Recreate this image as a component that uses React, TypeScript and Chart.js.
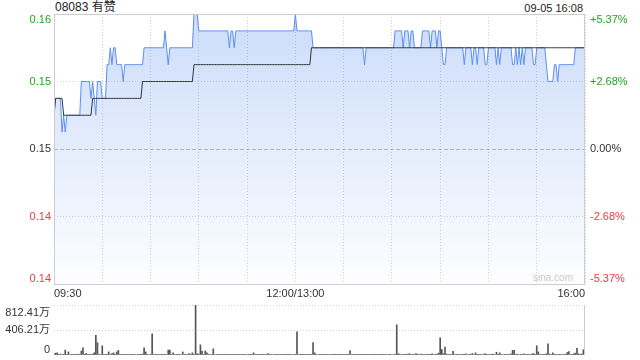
import React, { useEffect, useRef } from "react";
import { Chart, registerables } from "chart.js";

Chart.register(...registerables);

const FONT = '"Liberation Sans", Arial, "Noto Sans CJK SC", sans-serif';

const stockTitle = "08083 有赞";
const stampText = "09-05 16:08";
const watermark = "sina.com";

const prevClose = 0.149;
const priceTicks = [0.141, 0.145, 0.149, 0.153, 0.157];
const priceTickLabels = ["0.14", "0.14", "0.15", "0.15", "0.16"];
const pctTickLabels = ["-5.37%", "-2.68%", "0.00%", "+2.68%", "+5.37%"];

const timeTicks = [0, 30, 60, 90, 120, 150, 180, 210, 240, 270, 300, 330];
const timeTickLabels = ["09:30", "", "", "", "", "12:00/13:00", "", "", "", "", "", "16:00"];

const volTicks = [0, 406.205, 812.41];
const volTickLabels = ["0", "406.21万", "812.41万"];

// one value per trading minute (09:30 .. 16:00, lunch removed)
const prices = [
  0.151, 0.152, 0.152, 0.152, 0.152, 0.150, 0.151, 0.150, 0.151, 0.151,
  0.151, 0.151, 0.151, 0.151, 0.151, 0.151, 0.151, 0.153, 0.153, 0.153,
  0.153, 0.153, 0.153, 0.152, 0.153, 0.152, 0.151, 0.153, 0.153, 0.153,
  0.152, 0.152, 0.152, 0.154, 0.154, 0.155, 0.154, 0.155, 0.155, 0.154,
  0.154, 0.154, 0.154, 0.153, 0.154, 0.154, 0.154, 0.154, 0.154, 0.154,
  0.154, 0.154, 0.154, 0.154, 0.154, 0.154, 0.155, 0.155, 0.155, 0.155,
  0.155, 0.155, 0.155, 0.155, 0.155, 0.155, 0.155, 0.155, 0.155, 0.156,
  0.155, 0.154, 0.155, 0.155, 0.155, 0.155, 0.155, 0.155, 0.155, 0.155,
  0.155, 0.155, 0.155, 0.155, 0.155, 0.155, 0.155, 0.157, 0.157, 0.157,
  0.156, 0.156, 0.156, 0.156, 0.156, 0.156, 0.156, 0.156, 0.156, 0.156,
  0.156, 0.156, 0.156, 0.156, 0.156, 0.156, 0.156, 0.156, 0.156, 0.155,
  0.156, 0.156, 0.155, 0.156, 0.156, 0.156, 0.156, 0.156, 0.156, 0.156,
  0.156, 0.156, 0.156, 0.156, 0.156, 0.156, 0.156, 0.156, 0.156, 0.156,
  0.156, 0.156, 0.156, 0.156, 0.156, 0.156, 0.156, 0.156, 0.156, 0.156,
  0.156, 0.156, 0.156, 0.156, 0.156, 0.156, 0.156, 0.156, 0.156, 0.156,
  0.157, 0.156, 0.156, 0.156, 0.156, 0.156, 0.156, 0.156, 0.156, 0.156,
  0.156, 0.155, 0.155, 0.155, 0.155, 0.155, 0.155, 0.155, 0.155, 0.155,
  0.155, 0.155, 0.155, 0.155, 0.155, 0.155, 0.155, 0.155, 0.155, 0.155,
  0.155, 0.155, 0.155, 0.155, 0.155, 0.155, 0.155, 0.155, 0.155, 0.155,
  0.155, 0.155, 0.155, 0.154, 0.155, 0.155, 0.155, 0.155, 0.155, 0.155,
  0.155, 0.155, 0.155, 0.155, 0.155, 0.155, 0.155, 0.155, 0.155, 0.155,
  0.155, 0.155, 0.156, 0.156, 0.156, 0.156, 0.156, 0.155, 0.156, 0.156,
  0.156, 0.155, 0.156, 0.156, 0.155, 0.155, 0.155, 0.155, 0.155, 0.156,
  0.156, 0.156, 0.156, 0.156, 0.155, 0.156, 0.156, 0.156, 0.155, 0.156,
  0.156, 0.155, 0.154, 0.154, 0.155, 0.155, 0.155, 0.155, 0.155, 0.155,
  0.155, 0.155, 0.155, 0.155, 0.155, 0.154, 0.155, 0.155, 0.155, 0.155,
  0.154, 0.155, 0.155, 0.154, 0.155, 0.155, 0.155, 0.155, 0.154, 0.154,
  0.155, 0.155, 0.155, 0.155, 0.155, 0.154, 0.155, 0.154, 0.155, 0.155,
  0.155, 0.155, 0.155, 0.155, 0.155, 0.154, 0.154, 0.155, 0.154, 0.155,
  0.154, 0.155, 0.154, 0.155, 0.155, 0.155, 0.155, 0.155, 0.154, 0.154,
  0.155, 0.155, 0.155, 0.155, 0.155, 0.155, 0.154, 0.153, 0.153, 0.153,
  0.153, 0.154, 0.154, 0.153, 0.154, 0.154, 0.154, 0.154, 0.154, 0.154,
  0.154, 0.154, 0.154, 0.154, 0.155, 0.155, 0.155, 0.155, 0.155, 0.155,
  0.155,
];

const avgPrices = [
  0.151, 0.152, 0.152, 0.152, 0.152, 0.152, 0.151, 0.151, 0.151, 0.151,
  0.151, 0.151, 0.151, 0.151, 0.151, 0.151, 0.151, 0.151, 0.151, 0.151,
  0.151, 0.151, 0.151, 0.151, 0.152, 0.152, 0.152, 0.152, 0.152, 0.152,
  0.152, 0.152, 0.152, 0.152, 0.152, 0.152, 0.152, 0.152, 0.152, 0.152,
  0.152, 0.152, 0.152, 0.152, 0.152, 0.152, 0.152, 0.152, 0.152, 0.152,
  0.152, 0.152, 0.152, 0.152, 0.152, 0.153, 0.153, 0.153, 0.153, 0.153,
  0.153, 0.153, 0.153, 0.153, 0.153, 0.153, 0.153, 0.153, 0.153, 0.153,
  0.153, 0.153, 0.153, 0.153, 0.153, 0.153, 0.153, 0.153, 0.153, 0.153,
  0.153, 0.153, 0.153, 0.153, 0.153, 0.153, 0.153, 0.154, 0.154, 0.154,
  0.154, 0.154, 0.154, 0.154, 0.154, 0.154, 0.154, 0.154, 0.154, 0.154,
  0.154, 0.154, 0.154, 0.154, 0.154, 0.154, 0.154, 0.154, 0.154, 0.154,
  0.154, 0.154, 0.154, 0.154, 0.154, 0.154, 0.154, 0.154, 0.154, 0.154,
  0.154, 0.154, 0.154, 0.154, 0.154, 0.154, 0.154, 0.154, 0.154, 0.154,
  0.154, 0.154, 0.154, 0.154, 0.154, 0.154, 0.154, 0.154, 0.154, 0.154,
  0.154, 0.154, 0.154, 0.154, 0.154, 0.154, 0.154, 0.154, 0.154, 0.154,
  0.154, 0.154, 0.154, 0.154, 0.154, 0.154, 0.154, 0.154, 0.154, 0.154,
  0.155, 0.155, 0.155, 0.155, 0.155, 0.155, 0.155, 0.155, 0.155, 0.155,
  0.155, 0.155, 0.155, 0.155, 0.155, 0.155, 0.155, 0.155, 0.155, 0.155,
  0.155, 0.155, 0.155, 0.155, 0.155, 0.155, 0.155, 0.155, 0.155, 0.155,
  0.155, 0.155, 0.155, 0.155, 0.155, 0.155, 0.155, 0.155, 0.155, 0.155,
  0.155, 0.155, 0.155, 0.155, 0.155, 0.155, 0.155, 0.155, 0.155, 0.155,
  0.155, 0.155, 0.155, 0.155, 0.155, 0.155, 0.155, 0.155, 0.155, 0.155,
  0.155, 0.155, 0.155, 0.155, 0.155, 0.155, 0.155, 0.155, 0.155, 0.155,
  0.155, 0.155, 0.155, 0.155, 0.155, 0.155, 0.155, 0.155, 0.155, 0.155,
  0.155, 0.155, 0.155, 0.155, 0.155, 0.155, 0.155, 0.155, 0.155, 0.155,
  0.155, 0.155, 0.155, 0.155, 0.155, 0.155, 0.155, 0.155, 0.155, 0.155,
  0.155, 0.155, 0.155, 0.155, 0.155, 0.155, 0.155, 0.155, 0.155, 0.155,
  0.155, 0.155, 0.155, 0.155, 0.155, 0.155, 0.155, 0.155, 0.155, 0.155,
  0.155, 0.155, 0.155, 0.155, 0.155, 0.155, 0.155, 0.155, 0.155, 0.155,
  0.155, 0.155, 0.155, 0.155, 0.155, 0.155, 0.155, 0.155, 0.155, 0.155,
  0.155, 0.155, 0.155, 0.155, 0.155, 0.155, 0.155, 0.155, 0.155, 0.155,
  0.155, 0.155, 0.155, 0.155, 0.155, 0.155, 0.155, 0.155, 0.155, 0.155,
  0.155, 0.155, 0.155, 0.155, 0.155, 0.155, 0.155, 0.155, 0.155, 0.155,
  0.155,
];

// volume per minute, in 万 shares
const volumes = [
  20, 30, 35, 10, 15, 8, 12, 80, 10, 50,
  8, 12, 5, 10, 6, 15, 10, 65, 115, 10,
  25, 8, 12, 6, 15, 35, 320, 200, 12, 8,
  150, 10, 6, 12, 50, 8, 25, 35, 10, 50,
  75, 10, 6, 8, 5, 10, 6, 8, 5, 12,
  6, 8, 10, 5, 12, 15, 115, 50, 10, 8,
  12, 345, 8, 6, 10, 5, 8, 6, 10, 12,
  8, 80, 80, 10, 35, 8, 6, 12, 5, 8,
  50, 10, 6, 8, 25, 10, 35, 12, 812.41, 20,
  15, 165, 65, 10, 65, 35, 12, 8, 10, 100,
  8, 10, 6, 5, 8, 12, 6, 5, 8, 6,
  5, 8, 6, 10, 5, 6, 8, 5, 12, 6,
  8, 6, 5, 10, 35, 6, 8, 5, 6, 10,
  5, 8, 6, 25, 6, 5, 8, 10, 6, 5,
  8, 6, 10, 5, 8, 12, 6, 5, 8, 10,
  12, 375, 10, 8, 6, 12, 5, 8, 6, 10,
  12, 200, 35, 10, 8, 6, 5, 8, 6, 10,
  5, 8, 6, 10, 5, 6, 8, 12, 6, 5,
  8, 6, 10, 5, 70, 8, 6, 5, 10, 6,
  8, 5, 6, 10, 12, 5, 8, 6, 5, 10,
  6, 8, 5, 12, 6, 10, 5, 8, 6, 5,
  8, 10, 12, 490, 20, 15, 8, 10, 12, 6,
  15, 20, 8, 10, 6, 25, 12, 8, 15, 10,
  6, 8, 12, 10, 5, 20, 8, 6, 15, 30,
  280, 90, 20, 130, 15, 8, 12, 10, 60, 8,
  6, 10, 5, 8, 12, 6, 20, 8, 5, 10,
  25, 8, 35, 6, 10, 5, 8, 12, 20, 6,
  8, 10, 5, 15, 8, 45, 6, 35, 10, 8,
  5, 12, 8, 6, 20, 75, 75, 10, 15, 8,
  12, 6, 20, 8, 5, 10, 8, 15, 25, 12,
  150, 50, 10, 8, 12, 6, 20, 180, 15, 8,
  35, 6, 10, 8, 12, 5, 8, 10, 6, 40,
  55, 8, 12, 20, 30, 110, 20, 10, 15, 85,
  30,
];

const GREEN = "#22a622";
const RED = "#f03a3a";
const NEUTRAL = "#333333";
const GRID = "#d2d2d2";
const FRAME = "#cccccc";

function colorFor(v: number) {
  if (Math.abs(v - prevClose) < 1e-9) return NEUTRAL;
  return v > prevClose ? GREEN : RED;
}

const priceLabelsPlugin = {
  id: "priceLabels",
  afterDraw(chart: any) {
    const { ctx, chartArea: ca } = chart;
    const ys = chart.scales.y;
    ctx.save();
    // zero-change line
    const zy = Math.round(ys.getPixelForValue(prevClose)) + 0.5;
    ctx.strokeStyle = "#b4b4b4";
    ctx.lineWidth = 1;
    ctx.setLineDash([4, 2]);
    ctx.beginPath();
    ctx.moveTo(ca.left, zy);
    ctx.lineTo(ca.right, zy);
    ctx.stroke();
    ctx.setLineDash([]);
    // frame
    ctx.strokeStyle = FRAME;
    ctx.strokeRect(ca.left + 0.5, ca.top + 0.5, ca.right - ca.left - 1, ca.bottom - ca.top);
    // labels
    ctx.font = `11px ${FONT}`;
    priceTicks.forEach((v, i) => {
      const py = ys.getPixelForValue(v);
      ctx.textBaseline = i === 0 ? "bottom" : i === priceTicks.length - 1 ? "top" : "middle";
      ctx.fillStyle = colorFor(v);
      ctx.textAlign = "right";
      ctx.fillText(priceTickLabels[i], ca.left - 3, py);
      ctx.textAlign = "left";
      ctx.fillText(pctTickLabels[i], ca.right + 5, py);
    });
    // watermark
    ctx.font = `10px ${FONT}`;
    ctx.fillStyle = "#c8c8c8";
    ctx.textAlign = "right";
    ctx.textBaseline = "bottom";
    ctx.fillText(watermark, ca.right - 12, ca.bottom - 1);
    ctx.restore();
  },
};

const volLabelsPlugin = {
  id: "volLabels",
  afterDraw(chart: any) {
    const { ctx, chartArea: ca } = chart;
    const ys = chart.scales.y;
    ctx.save();
    ctx.strokeStyle = FRAME;
    ctx.lineWidth = 1;
    ctx.beginPath();
    ctx.moveTo(ca.right - 0.5, ca.top);
    ctx.lineTo(ca.right - 0.5, ca.bottom);
    ctx.stroke();
    ctx.font = `11px ${FONT}`;
    ctx.fillStyle = NEUTRAL;
    ctx.textAlign = "right";
    volTicks.forEach((v, i) => {
      const py = ys.getPixelForValue(v);
      if (i === 0) {
        ctx.textBaseline = "bottom";
        ctx.fillText(volTickLabels[i], ca.left - 4, py);
      } else if (i === volTicks.length - 1) {
        ctx.textBaseline = "top";
        ctx.fillText(volTickLabels[i], ca.left - 4, py + 2);
      } else {
        ctx.textBaseline = "middle";
        ctx.fillText(volTickLabels[i], ca.left - 4, py);
      }
    });
    ctx.restore();
  },
};

export default function App() {
  const priceRef = useRef<HTMLCanvasElement | null>(null);
  const volRef = useRef<HTMLCanvasElement | null>(null);

  useEffect(() => {
    if (!priceRef.current || !volRef.current) return;

    const priceChart = new Chart(priceRef.current, {
      type: "line",
      data: {
        datasets: [
          {
            label: "均价",
            data: avgPrices.map((p, i) => ({ x: i, y: p })),
            borderColor: "#333333",
            borderWidth: 1,
            pointRadius: 0,
            fill: false,
            tension: 0,
            order: 0,
          },
          {
            label: "价格",
            data: prices.map((p, i) => ({ x: i, y: p })),
            borderColor: "#5a8ef0",
            borderWidth: 1,
            pointRadius: 0,
            tension: 0,
            fill: "start",
            order: 1,
            backgroundColor: (c: any) => {
              const ca = c.chart.chartArea;
              if (!ca) return "rgba(70,130,235,0.15)";
              const g = c.chart.ctx.createLinearGradient(0, ca.top, 0, ca.bottom);
              g.addColorStop(0, "rgba(70,130,235,0.28)");
              g.addColorStop(1, "rgba(70,130,235,0.01)");
              return g;
            },
          },
        ],
      },
      options: {
        responsive: false,
        animation: false,
        layout: { padding: { top: 14, right: 55, left: 0, bottom: 0 } },
        plugins: { legend: { display: false }, tooltip: { enabled: false } },
        scales: {
          x: {
            type: "linear",
            min: 0,
            max: 330,
            afterBuildTicks: (s: any) => {
              s.ticks = timeTicks.map((v) => ({ value: v }));
            },
            afterFit: (s: any) => {
              s.height = 16;
            },
            ticks: {
              autoSkip: false,
              maxRotation: 0,
              align: "inner",
              padding: 3,
              color: NEUTRAL,
              font: { size: 11, family: FONT },
              callback: (_v: any, i: number) => timeTickLabels[i],
            },
            grid: { color: GRID, drawTicks: false, lineWidth: 1 },
            border: { display: false, dash: [1, 2] },
          },
          y: {
            type: "linear",
            position: "left",
            min: priceTicks[0],
            max: priceTicks[priceTicks.length - 1],
            afterBuildTicks: (s: any) => {
              s.ticks = priceTicks.map((v) => ({ value: v }));
            },
            afterFit: (s: any) => {
              s.width = 54;
            },
            ticks: { display: false },
            grid: {
              drawTicks: false,
              color: (c: any) =>
                c.tick && Math.abs(c.tick.value - prevClose) < 1e-9 ? "rgba(0,0,0,0)" : GRID,
            },
            border: { display: false, dash: [1, 2] },
          },
        },
      },
      plugins: [priceLabelsPlugin],
    } as any);

    const volChart = new Chart(volRef.current, {
      type: "bar",
      data: {
        datasets: [
          {
            label: "成交量",
            data: volumes.map((v, i) => ({ x: i, y: v })),
            backgroundColor: "#555555",
            barThickness: 1,
            borderWidth: 0,
          },
        ],
      },
      options: {
        responsive: false,
        animation: false,
        layout: { padding: { top: 5, right: 55, left: 0, bottom: 5 } },
        plugins: { legend: { display: false }, tooltip: { enabled: false } },
        scales: {
          x: { type: "linear", min: 0, max: 330, offset: false, display: false, grid: { offset: false } },
          y: {
            type: "linear",
            min: 0,
            max: volTicks[volTicks.length - 1],
            afterBuildTicks: (s: any) => {
              s.ticks = volTicks.map((v) => ({ value: v }));
            },
            afterFit: (s: any) => {
              s.width = 54;
            },
            ticks: { display: false },
            grid: {
              drawTicks: false,
              color: (c: any) => (c.tick && c.tick.value === 0 ? "rgba(0,0,0,0)" : GRID),
            },
            border: { display: false, dash: [1, 2] },
          },
        },
      },
      plugins: [volLabelsPlugin],
    } as any);

    return () => {
      priceChart.destroy();
      volChart.destroy();
    };
  }, []);

  return (
    <div
      style={{
        position: "absolute",
        left: 0,
        top: 0,
        width: 640,
        height: 360,
        background: "#ffffff",
        overflow: "hidden",
        fontFamily: FONT,
      }}
    >
      <div
        style={{
          position: "absolute",
          left: 55,
          top: 0,
          fontSize: 12,
          lineHeight: "14px",
          color: "#222222",
          whiteSpace: "nowrap",
        }}
      >
        {stockTitle}
      </div>
      <div
        style={{
          position: "absolute",
          right: 57,
          top: 1,
          fontSize: 11,
          lineHeight: "14px",
          color: "#222222",
          whiteSpace: "nowrap",
        }}
      >
        {stampText}
      </div>
      <canvas
        ref={priceRef}
        width={640}
        height={300}
        style={{ position: "absolute", left: 0, top: 0, width: 640, height: 300 }}
      />
      <canvas
        ref={volRef}
        width={640}
        height={60}
        style={{ position: "absolute", left: 0, top: 300, width: 640, height: 60 }}
      />
    </div>
  );
}
